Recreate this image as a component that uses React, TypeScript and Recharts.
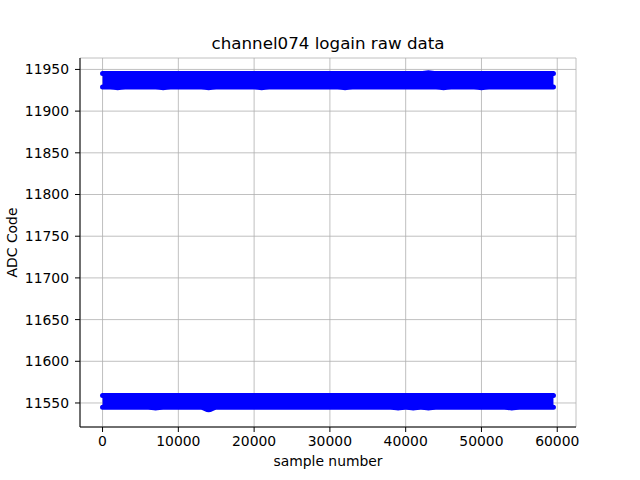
import React from "react";
import {
    ComposedChart,
    Area,
    XAxis,
    YAxis,
    CartesianGrid,
} from "recharts";

// sample index of each reading (every 1000th sample, plus the last one)
const samples = [
    0, 1000, 2000, 3000, 4000, 5000, 6000, 7000, 8000, 9000,
    10000, 11000, 12000, 13000, 14000, 15000, 16000, 17000, 18000, 19000,
    20000, 21000, 22000, 23000, 24000, 25000, 26000, 27000, 28000, 29000,
    30000, 31000, 32000, 33000, 34000, 35000, 36000, 37000, 38000, 39000,
    40000, 41000, 42000, 43000, 44000, 45000, 46000, 47000, 48000, 49000,
    50000, 51000, 52000, 53000, 54000, 55000, 56000, 57000, 58000, 59000, 59499,
];

// upper code level: max / min per block
const upperHi = [
    11945, 11945, 11945, 11945, 11945, 11945, 11945, 11945, 11945, 11945,
    11945, 11945, 11945, 11945, 11945, 11945, 11945, 11945, 11945, 11945,
    11945, 11945, 11945, 11945, 11945, 11945, 11945, 11945, 11945, 11945,
    11945, 11945, 11945, 11945, 11945, 11945, 11945, 11945, 11945, 11945,
    11945, 11945, 11945, 11946, 11945, 11945, 11945, 11945, 11945, 11945,
    11945, 11945, 11945, 11945, 11945, 11945, 11945, 11945, 11945, 11945, 11945,
];
const upperLo = [
    11929, 11929, 11928, 11929, 11929, 11929, 11929, 11929, 11928, 11929,
    11929, 11929, 11929, 11929, 11928, 11929, 11929, 11929, 11929, 11929,
    11929, 11928, 11929, 11929, 11929, 11929, 11929, 11929, 11929, 11929,
    11929, 11929, 11928, 11929, 11929, 11929, 11929, 11929, 11929, 11929,
    11929, 11929, 11929, 11929, 11929, 11928, 11929, 11929, 11929, 11929,
    11928, 11929, 11929, 11929, 11929, 11929, 11929, 11929, 11929, 11929, 11929,
];

// lower code level: max / min per block
const lowerHi = [
    11559, 11559, 11559, 11559, 11559, 11559, 11559, 11559, 11559, 11559,
    11559, 11559, 11559, 11559, 11559, 11559, 11559, 11559, 11559, 11559,
    11559, 11559, 11559, 11559, 11559, 11559, 11559, 11559, 11559, 11559,
    11559, 11559, 11559, 11559, 11559, 11559, 11559, 11559, 11559, 11559,
    11559, 11559, 11559, 11559, 11559, 11559, 11559, 11559, 11559, 11559,
    11559, 11559, 11559, 11559, 11559, 11559, 11559, 11559, 11559, 11559, 11559,
];
const lowerLo = [
    11545, 11545, 11545, 11545, 11545, 11545, 11545, 11544, 11545, 11545,
    11545, 11545, 11545, 11545, 11542, 11545, 11545, 11545, 11545, 11545,
    11545, 11545, 11545, 11545, 11545, 11545, 11545, 11545, 11545, 11545,
    11545, 11545, 11545, 11545, 11545, 11545, 11545, 11545, 11545, 11544,
    11545, 11544, 11545, 11544, 11545, 11545, 11545, 11545, 11545, 11545,
    11545, 11545, 11545, 11545, 11544, 11545, 11545, 11545, 11545, 11545, 11545,
];

const xTicks = [0, 10000, 20000, 30000, 40000, 50000, 60000];
const yTicks = [11550, 11600, 11650, 11700, 11750, 11800, 11850, 11900, 11950];

const rows = samples.map((n, i) => ({
    n,
    upper: [upperLo[i], upperHi[i]],
    lower: [lowerLo[i], lowerHi[i]],
}));

const font = "DejaVu Sans, sans-serif";
const tick = { fill: "#000", fontSize: 13.9, fontFamily: font };
const blue = "#0000ff";

export default function App() {
    return (
        <div style={{ position: "absolute", left: 0, top: 0, width: 640, height: 480, background: "#fff" }}>
            <ComposedChart
                width={640}
                height={480}
                data={rows}
                margin={{ top: 58, right: 64, bottom: 23, left: 20 }}
            >
                <CartesianGrid stroke="#b0b0b0" strokeWidth={0.8} />
                <XAxis
                    dataKey="n"
                    type="number"
                    domain={[-2975, 62475]}
                    ticks={xTicks}
                    allowDataOverflow
                    height={30}
                    stroke="#000"
                    tickSize={5}
                    tickMargin={4}
                    tick={tick}
                />
                <XAxis
                    xAxisId="top"
                    orientation="top"
                    type="number"
                    domain={[-2975, 62475]}
                    height={0}
                    tick={false}
                    tickLine={false}
                    stroke="#000"
                />
                <YAxis
                    type="number"
                    domain={[11521.2, 11963.7]}
                    ticks={yTicks}
                    allowDataOverflow
                    width={60}
                    stroke="#000"
                    tickSize={5}
                    tickMargin={6}
                    tick={tick}
                />
                <YAxis
                    yAxisId="right"
                    orientation="right"
                    type="number"
                    domain={[11521.2, 11963.7]}
                    width={0}
                    tick={false}
                    tickLine={false}
                    stroke="#000"
                />
                <Area
                    type="monotone"
                    dataKey="upper"
                    stroke={blue}
                    strokeWidth={5}
                    strokeLinejoin="round"
                    strokeLinecap="round"
                    fill={blue}
                    fillOpacity={1}
                    dot={false}
                    activeDot={false}
                    isAnimationActive={false}
                />
                <Area
                    type="monotone"
                    dataKey="lower"
                    stroke={blue}
                    strokeWidth={5}
                    strokeLinejoin="round"
                    strokeLinecap="round"
                    fill={blue}
                    fillOpacity={1}
                    dot={false}
                    activeDot={false}
                    isAnimationActive={false}
                />
            </ComposedChart>
            <svg
                width={640}
                height={480}
                style={{ position: "absolute", left: 0, top: 0, pointerEvents: "none" }}
            >
                <text x={328} y={49} textAnchor="middle" fontSize={16.7} fontFamily={font} fill="#000">
                    channel074 logain raw data
                </text>
                <text x={328} y={466} textAnchor="middle" fontSize={13.9} fontFamily={font} fill="#000">
                    sample number
                </text>
                <text
                    x={17}
                    y={242.5}
                    textAnchor="middle"
                    fontSize={13.9}
                    fontFamily={font}
                    fill="#000"
                    transform="rotate(-90, 17, 242.5)"
                >
                    ADC Code
                </text>
            </svg>
        </div>
    );
}
